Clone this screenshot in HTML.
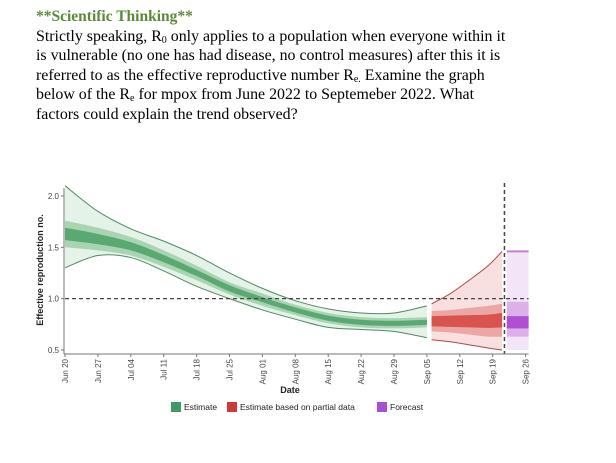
<!DOCTYPE html>
<html><head><meta charset="utf-8"><style>
body{margin:0;background:#fff;width:616px;height:463px;overflow:hidden;position:relative}
#txt{position:absolute;left:36px;top:7px;font-family:"Liberation Serif",serif;font-size:15.9px;line-height:19.5px;color:#000;white-space:nowrap}
#txt .h{color:#5a8a3a;font-weight:bold;font-size:15.5px}
sub{font-size:10px;line-height:0;vertical-align:-2px}
svg{position:absolute;left:0;top:0}
text{font-family:"Liberation Sans",sans-serif}
</style></head><body>
<div id="txt">
<div class="h">**Scientific Thinking**</div>
<div>Strictly speaking, R<sub>0</sub> only applies to a population when everyone within it</div>
<div>is vulnerable (no one has had disease, no control measures) after this it is</div>
<div>referred to as the effective reproductive number R<sub>e.</sub> Examine the graph</div>
<div>below of the R<sub>e</sub> for mpox from June 2022 to Septemeber 2022. What</div>
<div>factors could explain the trend observed?</div>
</div>
<svg id="chart" width="616" height="463"></svg>
<script>
const estDays=[0,7,14,21,28,35,42,49,56,63,70,77];
const estMed=[1.63,1.58,1.51,1.39,1.25,1.1,0.99,0.89,0.81,0.77,0.76,0.77];
const estHi=[2.1,1.85,1.68,1.56,1.42,1.25,1.1,0.98,0.9,0.86,0.86,0.93];
const estLo=[1.3,1.42,1.4,1.27,1.12,1.0,0.89,0.8,0.72,0.7,0.68,0.62];
const estMidW=[0.13,0.11,0.09,0.08,0.07,0.06,0.06,0.05,0.05,0.05,0.05,0.05];
const estDarkW=[0.06,0.05,0.04,0.035,0.03,0.03,0.025,0.025,0.025,0.025,0.025,0.025];
const partDays=[78,82,86,90,93];
const partMed=[0.78,0.78,0.78,0.78,0.79];
const partHi=[0.95,1.05,1.18,1.32,1.46];
const partLo=[0.6,0.58,0.55,0.52,0.5];
const partMidW=[0.1,0.11,0.13,0.15,0.16];
const partDarkW=[0.05,0.055,0.06,0.065,0.07];
const fcMed=0.77, fcHi=1.46, fcLo=0.5, fcMidHi=0.97, fcMidLo=0.63, fcDarkHi=0.83, fcDarkLo=0.71;
const tickLabels=["Jun 20","Jun 27","Jul 04","Jul 11","Jul 18","Jul 25","Aug 01","Aug 08","Aug 15","Aug 22","Aug 29","Sep 05","Sep 12","Sep 19","Sep 26"];
const yTicks=[0.5,1.0,1.5,2.0];
const X=d=>65+d*4.7, Y=v=>350-(v-0.5)*102.7;
const svg=document.getElementById('chart');const NS='http://www.w3.org/2000/svg';
function mk(t,a,name,parent){const e=document.createElementNS(NS,t);for(const k in a)e.setAttribute(k,a[k]);


(parent||svg).appendChild(e);return e;}
function smooth(pts,start){let d=start?'M'+pts[0][0]+','+pts[0][1]:'L'+pts[0][0]+','+pts[0][1];
for(let i=0;i<pts.length-1;i++){const p0=pts[Math.max(i-1,0)],p1=pts[i],p2=pts[i+1],p3=pts[Math.min(i+2,pts.length-1)];
const c1=[p1[0]+(p2[0]-p0[0])/6,p1[1]+(p2[1]-p0[1])/6],c2=[p2[0]-(p3[0]-p1[0])/6,p2[1]-(p3[1]-p1[1])/6];
d+=`C${c1[0]},${c1[1]} ${c2[0]},${c2[1]} ${p2[0]},${p2[1]}`;}return d;}
function band(days,hi,lo,fill,name){const a=days.map((d,i)=>[X(d),Y(hi[i])]);const b=days.map((d,i)=>[X(d),Y(lo[i])]).reverse();
mk('path',{d:smooth(a,true)+smooth(b,false)+'Z',fill:fill},name);}
function line(days,v,col,name){mk('path',{d:smooth(days.map((d,i)=>[X(d),Y(v[i])]),true),fill:'none',stroke:col,'stroke-width':1},name);}
band(estDays,estHi,estLo,'#e4f2e7','estimate-outer-band');
band(estDays,estMed.map((m,i)=>m+estMidW[i]),estMed.map((m,i)=>m-estMidW[i]),'#a8d4b2','estimate-mid-band');
band(estDays,estMed.map((m,i)=>m+estDarkW[i]),estMed.map((m,i)=>m-estDarkW[i]),'#5aa872','estimate-inner-band');
line(estDays,estHi,'#4f8a64','estimate-upper-line');line(estDays,estLo,'#4f8a64','estimate-lower-line');
band(partDays,partHi,partLo,'#f7e0df','partial-outer-band');
band(partDays,partMed.map((m,i)=>m+partMidW[i]),partMed.map((m,i)=>m-partMidW[i]),'#eba7a5','partial-mid-band');
band(partDays,partMed.map((m,i)=>m+partDarkW[i]),partMed.map((m,i)=>m-partDarkW[i]),'#d9534f','partial-inner-band');
line(partDays,partHi,'#b04848','partial-upper-line');line(partDays,partLo,'#b04848','partial-lower-line');
const fx=X(94),fw=X(98)-X(94)+3;
mk('rect',{x:fx,y:Y(fcHi),width:fw,height:Y(fcLo)-Y(fcHi),fill:'#f3e4f8'},'forecast-outer-band');
mk('rect',{x:fx,y:Y(fcMidHi),width:fw,height:Y(fcMidLo)-Y(fcMidHi),fill:'#dcb1ea'},'forecast-mid-band');
mk('rect',{x:fx,y:Y(fcDarkHi),width:fw,height:Y(fcDarkLo)-Y(fcDarkHi),fill:'#b04fd4'},'forecast-inner-band');
mk('line',{x1:fx,x2:fx+fw,y1:Y(fcHi),y2:Y(fcHi),stroke:'#c47fdc','stroke-width':2},'forecast-upper-line');
mk('line',{x1:65,x2:X(98)+3,y1:Y(1),y2:Y(1),stroke:'#444','stroke-width':1.3,'stroke-dasharray':'4,3'},'threshold-line');
mk('line',{x1:X(93.5),x2:X(93.5),y1:183,y2:354,stroke:'#444','stroke-width':1.5,'stroke-dasharray':'4,3'},'today-line');
mk('line',{x1:64,x2:64,y1:188,y2:354,stroke:'#777'},'y-axis');
mk('line',{x1:64,x2:X(98)+3,y1:354,y2:354,stroke:'#777'},'x-axis');
yTicks.forEach(v=>{mk('line',{x1:61,x2:64,y1:Y(v),y2:Y(v),stroke:'#777'},'y-tick');
const t=mk('text',{x:59,y:Y(v)+3,'font-size':8,'text-anchor':'end',fill:'#444'},'y-tick-label');t.textContent=v.toFixed(1);});
tickLabels.forEach((l,i)=>{const x=X(i*7);mk('line',{x1:x,x2:x,y1:354,y2:357,stroke:'#777'},'x-tick');
const t=mk('text',{x:0,y:0,'font-size':8,'text-anchor':'end',fill:'#444',transform:`translate(${x+3},359) rotate(-90)`},'x-tick-label');t.textContent=l;});
let t=mk('text',{x:290,y:393,'font-size':9,'font-weight':'bold','text-anchor':'middle',fill:'#222'},'x-axis-title');t.textContent='Date';
t=mk('text',{x:0,y:0,'font-size':9,'font-weight':'bold','text-anchor':'middle',fill:'#222',transform:'translate(43,270) rotate(-90)'},'y-axis-title');t.textContent='Effective reproduction no.';
[[171,'#3f9b63','Estimate'],[227,'#cc3a3a','Estimate based on partial data'],[377,'#a64fd6','Forecast']].forEach(([x,c,l])=>{
mk('rect',{x:x,y:402,width:10,height:10,fill:c},'legend-swatch');
const tt=mk('text',{x:x+13,y:410,'font-size':8.5,fill:'#222'},'legend-entry');tt.textContent=l;});
</script>
</body></html>
